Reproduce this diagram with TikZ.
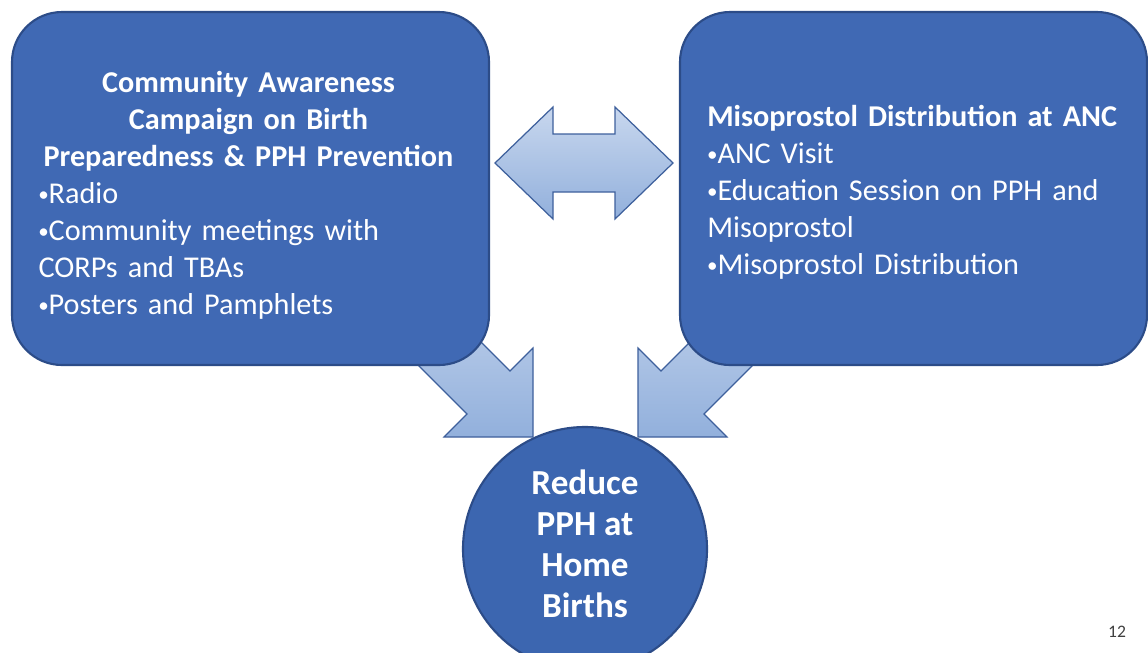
\documentclass[tikz,border=0pt]{standalone}
\usepackage{fontspec}
\setmainfont{Carlito}
\definecolor{boxblu}{RGB}{64,105,180}
\definecolor{cerchioblu}{RGB}{60,102,176}
\definecolor{bordoblu}{RGB}{44,76,136}
\definecolor{frecciachiara}{RGB}{200,215,238}
\definecolor{frecciascura}{RGB}{146,176,220}
\definecolor{bordofreccia}{RGB}{62,96,156}
\newcommand{\pallino}{\makebox[5.8pt][c]{\raisebox{1.2pt}{\fontsize{12}{12}\selectfont\char"2022}}}

\begin{document}
\begin{tikzpicture}[y=-1cm,
    riquadro/.style={draw=bordoblu, line width=1.2pt, fill=boxblu, rounded corners=1.0cm},
    testo/.style={text=white, font=\fontsize{17.2}{21}\selectfont, inner sep=0pt, align=left},
    freccia/.style={draw=bordofreccia, line width=0.7pt, top color=frecciachiara, bottom color=frecciascura}]
    \useasboundingbox (0,0) rectangle (22.96,13.04);

    % frecce verso il cerchio
    \draw[freccia] (8.08,5.30) -- (10.20,7.42) -- (10.66,6.96) -- (10.66,8.74)
        -- (8.88,8.74) -- (9.34,8.28) -- (7.22,6.16) -- cycle;
    \draw[freccia] (15.34,5.30) -- (13.22,7.42) -- (12.76,6.96) -- (12.76,8.74)
        -- (14.54,8.74) -- (14.08,8.28) -- (16.20,6.16) -- cycle;

    % freccia doppia tra i riquadri
    \draw[freccia] (9.90,3.26) -- (11.06,2.14) -- (11.06,2.68) -- (12.30,2.68)
        -- (12.30,2.14) -- (13.46,3.26) -- (12.30,4.38) -- (12.30,3.84)
        -- (11.06,3.84) -- (11.06,4.38) -- cycle;

    % riquadro sinistro
    \node[riquadro, minimum width=9.54cm, minimum height=7.06cm] (campagna) at (5.01,3.77) {};
    \node[testo, text width=8.4cm] (campagnatesto) at ([xshift=-0.04cm, yshift=-0.14cm]campagna.center)
        {{\centering\bfseries Community Awareness\\ Campaign on Birth\\
          Preparedness \& PPH Prevention\par}
         \pallino Radio\\ \pallino Community meetings with\\ CORPs and TBAs\\ \pallino Posters and Pamphlets};

    % riquadro destro
    \node[riquadro, minimum width=9.34cm, minimum height=7.06cm] (distribuzione) at (18.27,3.77) {};
    \node[testo, anchor=west, text width=8.6cm] (distribuzionetesto)
        at ([xshift=0.56cm, yshift=-0.08cm]distribuzione.west)
        {\textbf{Misoprostol Distribution at ANC}\\ \pallino ANC Visit\\
         \pallino Education Session on PPH and\\ Misoprostol\\ \pallino Misoprostol Distribution};

    % cerchio obiettivo
    \node[circle, draw=bordoblu, line width=1.2pt, fill=cerchioblu, minimum size=4.88cm,
        text=white, font=\bfseries\fontsize{20}{23.3}\selectfont, align=center, text depth=0.2cm]
        (obiettivo) at (11.70,10.98) {Reduce\\ PPH at\\ Home\\ Births};

    % numero pagina
    \node[font=\fontsize{10}{12}\selectfont, text=black!75] (pagina) at (22.34,12.64) {12};
\end{tikzpicture}
\end{document}
